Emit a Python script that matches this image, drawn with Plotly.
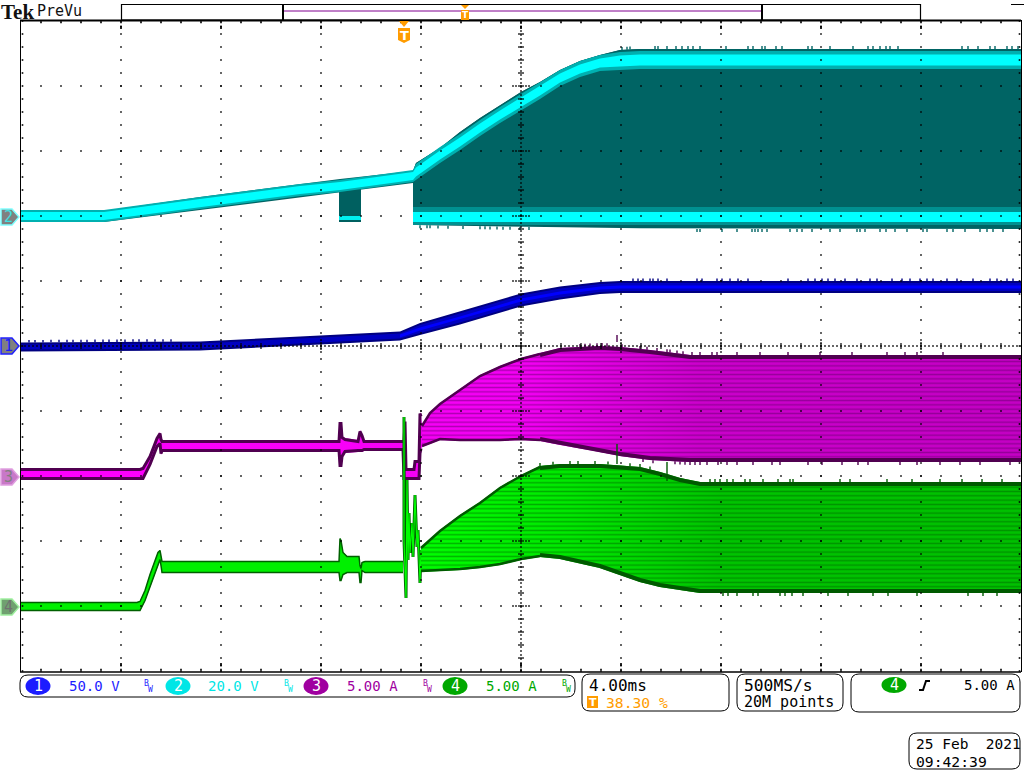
import numpy as np
import plotly.graph_objects as go

# record position (0-1000, 100 per division) and screen level (0-650, 65 per division)

ch2_x = [0, 83, 179, 279, 319, 392, 395, 419, 439, 459, 479, 500, 519, 539, 559, 579, 599, 619, 1000]
ch2_mid = [455, 455, 468, 481, 485, 495, 499, 516, 529, 543, 556, 569, 580, 593, 602, 608, 610, 611, 611]
ch2_top = [460, 460, 474, 487, 492, 500, 508, 523, 539, 553, 566, 579, 589, 601, 610, 616, 621, 622, 622]
ch2_low = [449, 449, 461, 474, 479, 488, 491, 507, 520, 534, 547, 560, 571, 584, 594, 600, 601, 601, 601]
ch2_floor_x = [392, 500, 679, 1000]
ch2_floor = [446, 444, 442, 442]
ch2_burst_x = [318, 340]
ch2_burst_top = [483, 486]
ch2_burst_low = [449, 449]
ch2_spikes_up = [601, 606, 609, 634, 637, 646, 655, 661, 667, 672, 679, 705, 727, 732, 741, 744, 755, 761,
                 787, 791, 809, 832, 847, 852, 859, 865, 869, 877, 941, 947, 957, 969, 974, 986, 991, 997]
ch2_spikes_down = [399, 406, 409, 417, 427, 442, 459, 464, 469, 476, 482, 489, 499, 508, 676, 679, 701, 716,
                   731, 734, 737, 741, 746, 769, 776, 781, 791, 809, 819, 836, 839, 844, 859, 865, 874, 886,
                   902, 906, 926, 932, 944, 959, 966, 972, 982]

ch1_x = [0, 179, 279, 319, 379, 399, 439, 479, 500, 539, 579, 599, 1000]
ch1_mid = [324, 325, 330, 332, 335, 342, 353, 365, 371, 378, 383, 384, 384]
ch1_half = [4.5, 4.5, 4.5, 4.5, 4.5, 6, 6.5, 6.5, 6.5, 6.5, 6, 6, 6]
ch1_spikes_up = [8, 14, 22, 30, 38, 46, 52, 60, 66, 74, 82, 88, 96, 104, 112, 118, 126, 134, 142, 150,
                 612, 617, 622, 629, 632, 637, 646, 676, 681, 696, 701, 709, 717, 727, 767, 787, 794, 801,
                 807, 814, 824, 836, 849, 856, 871, 881, 889, 899, 906, 912, 926, 936, 952, 969, 976, 986, 992]

ch3_x = [0, 119, 122, 129, 136, 139, 140, 141, 318, 319, 320, 321, 324, 337, 339, 341, 343, 382, 383, 384,
         385, 393, 394, 398, 399, 400, 401, 409, 419, 439, 459, 479, 500, 519, 539, 579, 599, 629, 669, 1000]
ch3_top = [203, 203, 204, 216, 234, 239, 233, 231, 231, 249, 249, 235, 233, 231, 241, 237, 231, 231, 231, 251,
           203, 203, 211, 211, 259, 256, 246, 259, 268, 282, 296, 305, 313, 318, 323, 325, 324, 321, 316, 316]
ch3_bot = [191, 191, 191, 205, 223, 226, 216, 219, 219, 204, 204, 213, 218, 219, 219, 219, 220, 220, 191, 191,
           191, 191, 191, 191, 216, 221, 224, 227, 231, 230, 230, 230, 231, 230, 226, 219, 215, 211, 209, 209]
ch3_spikes_up = [559, 564, 569, 576, 581, 586, 601, 619, 626, 636, 646, 649, 656, 662, 671, 679, 691, 696,
                 716, 739, 767, 799, 831, 866, 884, 896, 922]
ch3_spikes_down = [622, 632, 654, 659, 664, 669, 674, 679, 686, 697, 706, 716, 732, 751, 759, 787, 801, 821,
                   837, 847, 879, 896, 919, 939, 959, 989]

ch4_flat_x = [0, 116, 119, 124, 129, 134, 137, 139, 140, 141, 318, 319, 320, 322, 326, 338, 339, 340, 341, 344, 382]
ch4_flat_top = [69, 69, 70, 81, 97, 111, 119, 121, 115, 110, 110, 133, 131, 119, 115, 115, 106, 103, 109, 110, 110]
ch4_flat_bot = [60, 60, 60, 70, 83, 97, 105, 111, 105, 98, 98, 90, 90, 96, 98, 98, 88, 88, 100, 98, 98]
ch4_ring_x = [383, 383, 385, 386, 387, 388, 389, 391, 392, 394, 396, 397, 399, 400]
ch4_ring = [254, 131, 73, 191, 111, 158, 118, 148, 114, 176, 124, 141, 88, 121]
ch4_fan_x = [400, 419, 439, 459, 479, 500, 519, 539, 579, 619, 639, 659, 679, 1000]
ch4_fan_top = [124, 141, 156, 169, 184, 196, 205, 207, 207, 204, 199, 193, 189, 189]
ch4_fan_bot = [99, 100, 101, 103, 106, 111, 114, 112, 103, 89, 84, 81, 78, 78]
ch4_spikes_up = [519, 532, 549, 557, 574, 587, 609, 619, 629, 689, 694, 699, 706, 712, 724, 729, 742, 757,
                 769, 772, 819, 829, 866, 891, 919, 941, 961, 981]
ch4_spikes_down = [702, 707, 716, 732, 737, 759, 764, 771, 782, 807, 827, 852, 867, 896, 947, 962, 976]

scale_labels = ["50.0 V", "20.0 V", "5.00 A", "5.00 A"]
scale_colors = ["#1c1cff", "#00e6e6", "#a000a0", "#00a800"]
pill_x = [38, 178, 316, 455]
label_x = [68, 207, 346, 485]
bw_x = [143, 283, 422, 561]


def band(xs, top, bot, color, **kw):
    # closed polygon between two envelopes
    xs, top, bot = list(xs), list(top), list(bot)
    return go.Scatter(x=xs + xs[::-1], y=top + bot[::-1], mode="lines", fill="toself", fillcolor=color,
                      line=dict(width=0), hoverinfo="skip", showlegend=False, **kw)


def edge(xs, ys, color, width):
    return go.Scatter(x=xs, y=ys, mode="lines", line=dict(color=color, width=width),
                      hoverinfo="skip", showlegend=False)


def spikes(at, env_x, env_y, height, color):
    xs, ys = [], []
    for a in at:
        base = float(np.interp(a, env_x, env_y))
        xs += [a, a, None]
        ys += [base, base + height, None]
    return edge(xs, ys, color, 1.4)


fig = go.Figure()

# channel 2
mid2 = np.array(ch2_mid)
glow2 = np.array([6] * 6 + [8] * 10 + [9] * 3)
core2 = np.array([4] * 6 + [4.5] * 10 + [5.5] * 3)
fig.add_trace(band(ch2_x[5:], ch2_top[5:], np.interp(ch2_x[5:], ch2_floor_x, ch2_floor), "#006464"))
fig.add_trace(band(ch2_x, ch2_top, ch2_low, "#006464"))
fig.add_trace(band(ch2_burst_x, ch2_burst_top, ch2_burst_low, "#006060"))
fig.add_trace(band(ch2_burst_x, [455, 455], [451, 451], "#00f0f0"))
fig.add_trace(band(ch2_floor_x, [464] * 4, [446] * 4, "#009090"))
fig.add_trace(band(ch2_floor_x, [459] * 4, [449] * 4, "#00ffff"))
fig.add_trace(band(ch2_x, mid2 + glow2, mid2 - glow2, "#00b0b0"))
fig.add_trace(band(ch2_x, mid2 + core2, mid2 - core2, "#00ffff"))
fig.add_trace(spikes(ch2_spikes_up, ch2_x, ch2_top, 3, "#006464"))
fig.add_trace(spikes(ch2_spikes_down, ch2_floor_x, ch2_floor, -3, "#006464"))

# channel 1
mid1 = np.array(ch1_mid)
half1 = np.array(ch1_half)
fig.add_trace(band(ch1_x, mid1 + half1, mid1 - half1, "#000080"))
fig.add_trace(band(ch1_x, mid1 + half1 - 2, mid1 - half1 + 2, "#0000c0"))
fig.add_trace(band(ch1_x[4:], mid1[4:] + 1.5, mid1[4:] - 1.5, "#0000ff"))
fig.add_trace(spikes(ch1_spikes_up, ch1_x, mid1 + half1, 2.5, "#000080"))

# channel 3
fig.add_trace(go.Scatter(x=list(ch3_x) + ch3_x[::-1], y=list(ch3_top) + ch3_bot[::-1], mode="lines", fill="toself",
                         line=dict(width=0), hoverinfo="skip", showlegend=False,
                         fillgradient=dict(type="horizontal",
                                           colorscale=[[0, "#ff00ff"], [0.5, "#f400f4"], [0.68, "#cc00cc"], [1, "#c400c4"]])))
fig.add_trace(band(ch3_x[26:], ch3_top[26:], ch3_bot[26:], "rgba(0,0,0,0)",
                   fillpattern=dict(shape="-", size=4.33, solidity=0.34, fgcolor="rgba(90,0,100,0.9)",
                                    bgcolor="rgba(0,0,0,0)")))
fig.add_trace(edge(ch3_x[:26], np.array(ch3_top[:26]) - 1.5, "#500050", 3))
fig.add_trace(edge(ch3_x[:26], np.array(ch3_bot[:26]) + 1.5, "#500050", 3))
fig.add_trace(edge(ch3_x[26:34], np.array(ch3_top[26:34]) - 1, "#500050", 2.5))
fig.add_trace(edge(ch3_x[26:34], np.array(ch3_bot[26:34]) + 1, "#500050", 2.5))
fig.add_trace(edge(ch3_x[33:], np.array(ch3_top[33:]) - 2, "#500050", 4))
fig.add_trace(edge(ch3_x[33:], np.array(ch3_bot[33:]) + 2, "#500050", 4))
fig.add_trace(spikes(ch3_spikes_up, ch3_x, ch3_top, 3, "#500050"))
fig.add_trace(spikes(ch3_spikes_down, ch3_x, ch3_bot, -3, "#500050"))

# channel 4
flat_top = np.array(ch4_flat_top)
flat_bot = np.array(ch4_flat_bot)
fig.add_trace(band(ch4_flat_x, flat_top, flat_bot, "#00f000"))
fig.add_trace(edge(ch4_flat_x, flat_top - 0.5, "#006000", 1.5))
fig.add_trace(edge(ch4_flat_x, flat_bot + 0.5, "#006000", 1.5))
fig.add_trace(edge(ch4_ring_x, ch4_ring, "#006000", 3))
fig.add_trace(edge(ch4_ring_x, ch4_ring, "#00ff00", 1.2))
fan_x = list(ch4_fan_x)
fig.add_trace(go.Scatter(x=fan_x + fan_x[::-1], y=list(ch4_fan_top) + ch4_fan_bot[::-1], mode="lines", fill="toself",
                         line=dict(width=0), hoverinfo="skip", showlegend=False,
                         fillgradient=dict(type="horizontal",
                                           colorscale=[[0, "#00ff00"], [0.25, "#00e800"], [0.5, "#00c400"], [1, "#00c000"]])))
fig.add_trace(band(fan_x, ch4_fan_top, ch4_fan_bot, "rgba(0,0,0,0)",
                   fillpattern=dict(shape="-", size=4.33, solidity=0.34, fgcolor="rgba(0,90,0,0.9)",
                                    bgcolor="rgba(0,0,0,0)")))
fig.add_trace(edge(fan_x[:7], np.array(ch4_fan_top[:7]) - 1, "#005a00", 2.5))
fig.add_trace(edge(fan_x[:7], np.array(ch4_fan_bot[:7]) + 1, "#005a00", 2.5))
fig.add_trace(edge(fan_x[6:], np.array(ch4_fan_top[6:]) - 2, "#005a00", 4))
fig.add_trace(edge(fan_x[6:], np.array(ch4_fan_bot[6:]) + 2, "#005a00", 4))
fig.add_trace(spikes(ch4_spikes_up, ch4_fan_x, ch4_fan_top, 3, "#005a00"))
fig.add_trace(spikes(ch4_spikes_down, ch4_fan_x, ch4_fan_bot, -3, "#005a00"))
fig.add_trace(edge([596, 596, None, 646, 646], [207, 227, None, 190, 209], "#005a00", 1.4))
fig.add_trace(edge([596, 596], [329, 336], "#500050", 1.4))

# graticule, dots sit on top of the traces
gx, gy = [], []
for row in range(0, 651, 65):
    for col in range(20, 1000, 20):
        gx.append(col)
        gy.append(row)
for col in range(100, 1000, 100):
    for lev in range(0, 651, 13):
        gx.append(col)
        gy.append(lev)
for lev in range(0, 651, 13):
    gx += [1.5, 998.5]
    gy += [lev, lev]
for col in range(0, 1001, 4):
    gx.append(col)
    gy.append(325)
for lev in range(0, 651, 4):
    gx.append(500)
    gy.append(lev)
for col in range(20, 1000, 20):
    for off in (-2, 2):
        gx.append(col)
        gy.append(325 + off)
    gx += [col, col]
    gy += [1.5, 648.5]
for lev in range(13, 650, 13):
    for off in (-2, 2):
        gx.append(500 + off)
        gy.append(lev)
for row in range(65, 650, 65):
    for off in (-8, -5, 5, 8):
        gx.append(500 + off)
        gy.append(row)
for col in range(100, 1000, 100):
    for off in (-6, -3, 3, 6):
        gx += [col, col, col]
        gy += [325 + off, 4 + abs(off) / 2, 646 - abs(off) / 2]
fig.add_trace(go.Scatter(x=gx, y=gy, mode="markers", hoverinfo="skip", showlegend=False,
                         marker=dict(symbol="square", size=1.6, color="black", line=dict(width=0))))


# screen furniture below, in page pixels
def X(p):
    return p - 21


def Y(p):
    return 671 - p


def txt(x, y, s, size=15, color="black", anchor="left", font="DejaVu Sans Mono", bold=False):
    fig.add_annotation(x=X(x), y=Y(y), text=f"<b>{s}</b>" if bold else s, showarrow=False, xanchor=anchor,
                       yanchor="middle", font=dict(family=font, size=size, color=color),
                       borderpad=0, xshift=0, yshift=0)


def rrect(x0, y0, x1, y1, r=8, color="black", width=1):
    a0, b0, a1, b1 = X(x0), Y(y0), X(x1), Y(y1)
    p = (f"M {a0+r},{b0} L {a1-r},{b0} Q {a1},{b0} {a1},{b0-r} L {a1},{b1+r} Q {a1},{b1} {a1-r},{b1} "
         f"L {a0+r},{b1} Q {a0},{b1} {a0},{b1+r} L {a0},{b0-r} Q {a0},{b0} {a0+r},{b0} Z")
    fig.add_shape(type="path", path=p, line=dict(color=color, width=width), fillcolor="white")


def poly(points, fill, line="rgba(0,0,0,0)", width=0):
    p = "M " + " L ".join(f"{X(a)},{Y(b)}" for a, b in points) + " Z"
    fig.add_shape(type="path", path=p, fillcolor=fill, line=dict(color=line, width=width))


def seg(x0, y0, x1, y1, width=1, color="black"):
    fig.add_shape(type="line", x0=X(x0), y0=Y(y0), x1=X(x1), y1=Y(y1), line=dict(color=color, width=width))


def pill(cx, cy, rx, ry, color):
    fig.add_shape(type="circle", x0=X(cx - rx), x1=X(cx + rx), y0=Y(cy - ry), y1=Y(cy + ry),
                  fillcolor=color, line=dict(width=0))


# graticule frame
seg(20, 20.5, 1021, 20.5, 2)
seg(20.5, 20, 20.5, 672)
seg(1021.5, 20, 1021.5, 672)
seg(20, 672, 1021, 672, 1.5)

# header
txt(0, 12, "Tek", 21, "#111", font="Liberation Serif", bold=True)
txt(36, 11, "PreVu", 15, "#111", font="DejaVu Sans Mono")
fig.add_shape(type="rect", x0=X(121.5), x1=X(920.5), y0=Y(4.5), y1=Y(20), line=dict(color="black", width=1.2))
seg(283, 11, 762, 11, 1, "#800090")
seg(283, 4, 283, 20, 2)
seg(762, 4, 762, 20, 2)
seg(1011, 4.5, 1024, 4.5, 1)
poly([(461, 5), (469, 5), (465, 9)], "#ff9c00")
poly([(461, 10), (469, 10), (469, 20), (461, 20)], "#ff9c00")
txt(465, 15, "T", 9, "white", "center", "DejaVu Sans", True)
poly([(399, 21), (409, 21), (404, 27)], "#ff9c00")
poly([(398, 28), (410, 28), (410, 40), (404, 43), (398, 40)], "#ff9c00")
txt(404, 35, "T", 13, "white", "center", "DejaVu Sans", True)

# channel tags
tag_y = [346, 217, 477, 607]
tag_fill = ["#808080", "#808080", "#c878c8", "#70a070"]
tag_line = ["#2020ff", "#80ffff", "#e0a0e0", "#a0f0a0"]
tag_text = ["#1c1cff", "#40e0e0", "#808080", "#707070"]
for n in range(4):
    y = tag_y[n]
    poly([(1, y - 8), (12, y - 8), (19, y), (12, y + 8), (1, y + 8)], tag_fill[n], tag_line[n], 1.5)
    txt(8, y, str(n + 1), 15, tag_text[n], "center", "DejaVu Sans Mono")

# bottom readouts
rrect(20, 675, 575, 697)
for n in range(4):
    pill(pill_x[n], 686, 12.5, 9, scale_colors[n])
    txt(pill_x[n], 686, str(n + 1), 15, "white", "center")
    txt(label_x[n], 686, scale_labels[n], 14, scale_colors[n])
    txt(bw_x[n], 683, "B", 8, scale_colors[n])
    txt(bw_x[n] + 4, 689, "W", 8, scale_colors[n])

rrect(582, 674, 729, 711)
txt(588, 685, "4.00ms", 16)
poly([(587, 696), (598, 696), (598, 708), (587, 708)], "#ff9c00")
txt(592.5, 702, "T", 11, "white", "center", "DejaVu Sans", True)
txt(605, 702, "38.30 %", 14.7, "#ff9c00")

rrect(737, 674, 843, 711)
txt(743, 685, "500MS/s", 16.3)
txt(743, 702, "20M points", 15)

rrect(851, 674, 1020, 712)
pill(894, 685, 12.5, 8, "#00a800")
txt(894, 685, "4", 15, "white", "center")
fig.add_shape(type="path", path=f"M {X(919)},{Y(690)} L {X(923)},{Y(690)} L {X(926)},{Y(681)} L {X(930)},{Y(681)}",
              line=dict(color="black", width=2))
txt(1016, 685, "5.00 A", 14, anchor="right")

rrect(909, 733, 1020, 769)
txt(915, 744, "25 Feb\u00a0\u00a02021", 14.5)
txt(915, 761, "09:42:39", 14.7)

fig.update_layout(width=1024, height=774, margin=dict(l=0, r=0, t=0, b=0), plot_bgcolor="white",
                  paper_bgcolor="white", showlegend=False,
                  xaxis=dict(range=[-21, 1003], visible=False, fixedrange=True),
                  yaxis=dict(range=[-103, 671], visible=False, fixedrange=True))

# the default page has a body margin that would shift the screen by 8 px
fig.write_html("out.html", config=dict(displayModeBar=False),
               post_script="document.body.style.margin='0';document.documentElement.style.overflow='hidden';")
